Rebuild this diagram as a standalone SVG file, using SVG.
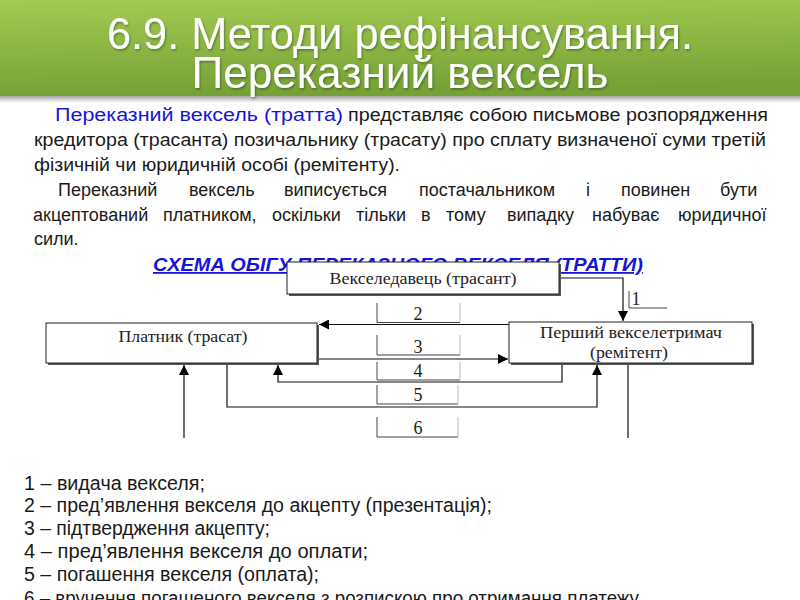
<svg xmlns="http://www.w3.org/2000/svg" width="800" height="600" viewBox="0 0 800 600">
<defs>
  <linearGradient id="banner" x1="0" y1="0" x2="0.15" y2="1">
    <stop offset="0" stop-color="#a3cb52"/>
    <stop offset="1" stop-color="#76a136"/>
  </linearGradient>
  <linearGradient id="bshadow" x1="0" y1="0" x2="0" y2="1">
    <stop offset="0" stop-color="#000" stop-opacity="0.35"/>
    <stop offset="1" stop-color="#000" stop-opacity="0"/>
  </linearGradient>
  <filter id="tshadow" x="-5%" y="-20%" width="110%" height="140%">
    <feDropShadow dx="1" dy="1.5" stdDeviation="1" flood-color="#000" flood-opacity="0.35"/>
  </filter>
  <marker id="ah" viewBox="0 0 10 10" refX="10" refY="5" markerWidth="10" markerHeight="10" markerUnits="userSpaceOnUse" orient="auto">
    <path d="M0,0 L10,5 L0,10 Z" fill="#000"/>
  </marker>
  <style>
    .ttl { font-family: "Liberation Sans", Arial, sans-serif; font-size: 44px; fill: #fff; text-anchor: middle; }
    .par { font-family: "Liberation Sans", Arial, sans-serif; font-size: 17.5px; fill: #1a1a1a; }
    .par2 { font-family: "Liberation Sans", Arial, sans-serif; font-size: 18px; fill: #1a1a1a; }
    .blue { fill: #1515d8; }
    .schema { font-family: "Liberation Sans", Arial, sans-serif; font-size: 18px; font-weight: bold; font-style: italic; fill: #1515d8; text-anchor: middle; text-decoration: underline; }
    .box { fill: #fff; stroke: #222; stroke-width: 1; }
    .shd { fill: #555; }
    .ser { font-family: "Liberation Serif", "Times New Roman", serif; font-size: 17px; fill: #222; text-anchor: middle; }
    .num { font-family: "Liberation Serif", "Times New Roman", serif; font-size: 18px; fill: #222; text-anchor: middle; }
    .brk { fill: none; stroke: #444; stroke-width: 1; }
    .brr { fill: none; stroke: #bbb; stroke-width: 1; }
    .cn { fill: none; stroke: #111; stroke-width: 1.2; }
    .list { font-family: "Liberation Sans", Arial, sans-serif; font-size: 19.5px; fill: #1a1a1a; }
  </style>
</defs>

<!-- title banner -->
<rect x="0" y="0" width="800" height="96" fill="url(#banner)"/>
<rect x="0" y="96" width="800" height="7" fill="url(#bshadow)"/>
<g filter="url(#tshadow)">
  <text class="ttl" x="400" y="49" textLength="586" lengthAdjust="spacingAndGlyphs">6.9. Методи рефінансування.</text>
  <text class="ttl" x="400" y="88" textLength="417" lengthAdjust="spacingAndGlyphs">Переказний вексель</text>
</g>

<!-- paragraph -->
<text class="par" x="55" y="121"><tspan class="blue" textLength="288" lengthAdjust="spacingAndGlyphs">Переказний вексель (тратта)</tspan></text>
<text class="par" x="348" y="121" textLength="420" lengthAdjust="spacingAndGlyphs">представляє собою письмове розпорядження</text>
<text class="par" x="34" y="146" textLength="732" lengthAdjust="spacingAndGlyphs">кредитора (трасанта) позичальнику (трасату) про сплату визначеної суми третій</text>
<text class="par" x="34" y="171" textLength="366" lengthAdjust="spacingAndGlyphs">фізичній чи юридичній особі (ремітенту).</text>
<text class="par2" y="196"><tspan x="58">Переказний</tspan><tspan x="189">вексель</tspan><tspan x="284">виписується</tspan><tspan x="419">постачальником</tspan><tspan x="586">і</tspan><tspan x="621">повинен</tspan><tspan x="720">бути</tspan></text>
<text class="par2" y="221"><tspan x="33">акцептований</tspan><tspan x="163">платником,</tspan><tspan x="272">оскільки</tspan><tspan x="356">тільки</tspan><tspan x="421">в</tspan><tspan x="446">тому</tspan><tspan x="507">випадку</tspan><tspan x="592">набуває</tspan><tspan x="678">юридичної</tspan></text>
<text class="par2" x="34" y="245">сили.</text>

<text class="schema" x="398" y="271" textLength="490" lengthAdjust="spacingAndGlyphs">СХЕМА ОБІГУ ПЕРЕКАЗНОГО ВЕКСЕЛЯ (ТРАТТИ)</text>

<!-- connectors -->
<g id="connectors">
  <path class="cn" d="M559,278 H623 V321" marker-end="url(#ah)"/>
  <path class="cn" d="M509,324.5 H319" marker-end="url(#ah)"/>
  <path class="cn" d="M317,359 H508" marker-end="url(#ah)"/>
  <path class="cn" d="M562,364 V382 H278 V365" marker-end="url(#ah)"/>
  <path class="cn" d="M227,364 V407 H597 V365" marker-end="url(#ah)" stroke-width="2"/>
  <path class="cn" d="M628,364 V438"/>
  <path class="cn" d="M184,438 V365" marker-end="url(#ah)" stroke-width="1.6"/>
</g>

<!-- labels -->
<g id="labels">
  <path class="brk" d="M629,291 V308 H667"/>
  <text class="num" x="636" y="305" font-size="16">1</text>
  <path class="brk" d="M377,303 V322.5 H460"/><path class="brr" d="M460,303 V322"/>
  <text class="num" x="418" y="320">2</text>
  <path class="brk" d="M377,335 V355 H460"/><path class="brr" d="M460,335 V355"/>
  <text class="num" x="418" y="353">3</text>
  <path class="brk" d="M377,362 V380 H460"/><path class="brr" d="M460,362 V380"/>
  <text class="num" x="418" y="377">4</text>
  <path class="brk" d="M377,385 V404 H458"/><path class="brr" d="M458,385 V404"/>
  <text class="num" x="418" y="401">5</text>
  <path class="brk" d="M377,417 V437 H458"/><path class="brr" d="M458,417 V437"/>
  <text class="num" x="418" y="434">6</text>
</g>

<!-- nodes -->
<g id="drawer">
  <rect class="shd" x="289" y="264" width="272" height="32"/>
  <rect class="box" x="287" y="262" width="272" height="32"/>
  <text class="ser" x="423" y="284" textLength="187" lengthAdjust="spacingAndGlyphs">Векселедавець (трасант)</text>
</g>
<g id="payer">
  <rect class="shd" x="48" y="325" width="271" height="40"/>
  <rect class="box" x="46" y="323" width="271" height="40"/>
  <text class="ser" x="183" y="342" textLength="129" lengthAdjust="spacingAndGlyphs">Платник (трасат)</text>
</g>
<g id="remitent">
  <rect class="shd" x="511" y="324" width="243" height="41"/>
  <rect class="box" x="509" y="322" width="243" height="41"/>
  <text class="ser" x="631" y="338" textLength="182" lengthAdjust="spacingAndGlyphs">Перший векселетримач</text>
  <text class="ser" x="629" y="358" textLength="78" lengthAdjust="spacingAndGlyphs">(ремітент)</text>
</g>

<!-- legend -->
<g id="legend">
  <text class="list" x="24" y="490" textLength="181" lengthAdjust="spacingAndGlyphs">1 – видача векселя;</text>
  <text class="list" x="24" y="512" textLength="468" lengthAdjust="spacingAndGlyphs">2 – пред’явлення векселя до акцепту (презентація);</text>
  <text class="list" x="24" y="535" textLength="246" lengthAdjust="spacingAndGlyphs">3 – підтвердження акцепту;</text>
  <text class="list" x="24" y="558" textLength="344" lengthAdjust="spacingAndGlyphs">4 – пред’явлення векселя до оплати;</text>
  <text class="list" x="24" y="581" textLength="295" lengthAdjust="spacingAndGlyphs">5 – погашення векселя (оплата);</text>
  <text class="list" x="24" y="605" textLength="615" lengthAdjust="spacingAndGlyphs">6 – вручення погашеного векселя з розпискою про отримання платежу</text>
</g>
</svg>
